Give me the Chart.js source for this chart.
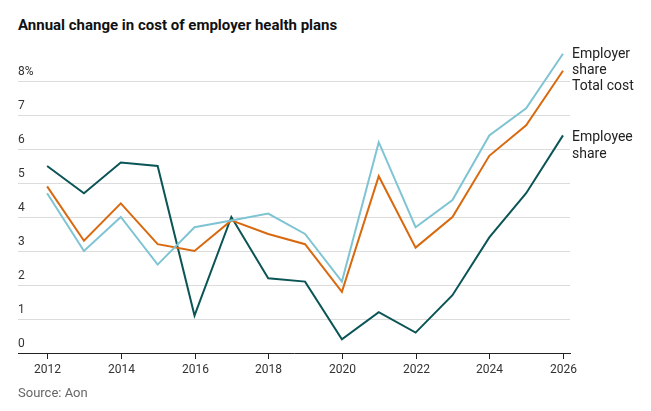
<!DOCTYPE html>
<html>
<head>
<meta charset="utf-8" />
<title>Annual change in cost of employer health plans</title>
<script src="https://cdn.jsdelivr.net/npm/chart.js"></script>
<style>
  body { margin: 0; background: #fff; font-family: Roboto, sans-serif; }
  #wrap { position: relative; width: 651px; height: 411px; }
  #title { position: absolute; left: 18px; top: 16px; font-size: 15px; font-weight: bold; color: #111; }
  #source { position: absolute; left: 18px; top: 385px; font-size: 13px; color: #666; }
  canvas { position: absolute; left: 0; top: 0; }
</style>
</head>
<body>
<div id="wrap">
  <div id="title">Annual change in cost of employer health plans</div>
  <canvas id="myChart" width="651" height="411"></canvas>
  <div id="source">Source: Aon</div>
</div>
<script type="text/javascript">
// data
const years = [2012, 2013, 2014, 2015, 2016, 2017, 2018, 2019, 2020, 2021, 2022, 2023, 2024, 2025, 2026];
const employerShare = [4.7, 3.0, 4.0, 2.6, 3.7, 3.9, 4.1, 3.5, 2.1, 6.2, 3.7, 4.5, 6.4, 7.2, 8.8];
const totalCost = [4.9, 3.3, 4.4, 3.2, 3.0, 3.9, 3.5, 3.2, 1.8, 5.2, 3.1, 4.0, 5.8, 6.7, 8.3];
const employeeShare = [5.5, 4.7, 5.6, 5.5, 1.1, 4.0, 2.2, 2.1, 0.4, 1.2, 0.6, 1.7, 3.4, 4.7, 6.4];
const yTicks = [0, 1, 2, 3, 4, 5, 6, 7, 8];
const xTicks = [2012, 2014, 2016, 2018, 2020, 2022, 2024, 2026];

const pts = arr => arr.map((v, i) => ({ x: years[i], y: v }));

// draws tick labels, tick marks and the end labels
const labelsPlugin = {
  id: 'labels',
  afterDraw(chart) {
    const ctx = chart.ctx, x = chart.scales.x, y = chart.scales.y;
    ctx.save();
    ctx.font = '12px Roboto';
    ctx.fillStyle = '#333';
    ctx.textAlign = 'left';
    ctx.textBaseline = 'alphabetic';
    yTicks.forEach(t => ctx.fillText(t === 8 ? '8%' : String(t), 18, y.getPixelForValue(t) - 6));
    ctx.textAlign = 'center';
    ctx.textBaseline = 'top';
    ctx.strokeStyle = '#222';
    ctx.lineWidth = 1;
    xTicks.forEach(t => {
      const px = Math.round(x.getPixelForValue(t)) + 0.5;
      ctx.beginPath();
      ctx.moveTo(px, chart.chartArea.bottom);
      ctx.lineTo(px, chart.chartArea.bottom + 6);
      ctx.stroke();
      ctx.fillText(String(t), px, chart.chartArea.bottom + 11);
    });
    ctx.font = '14px Roboto';
    ctx.fillStyle = '#222';
    ctx.textAlign = 'left';
    ctx.textBaseline = 'middle';
    const lx = chart.chartArea.right + 2;
    ctx.fillText('Employer', lx, 54);
    ctx.fillText('share', lx, 70);
    ctx.fillText('Total cost', lx, 86);
    ctx.fillText('Employee', lx, 137);
    ctx.fillText('share', lx, 154);
    ctx.restore();
  }
};

const ctx = document.getElementById('myChart');
new Chart(ctx, {
  type: 'line',
  data: {
    datasets: [
      { label: 'Employer share', data: pts(employerShare), borderColor: '#7fc4d3', borderWidth: 2 },
      { label: 'Total cost', data: pts(totalCost), borderColor: '#d9690f', borderWidth: 2 },
      { label: 'Employee share', data: pts(employeeShare), borderColor: '#0b5556', borderWidth: 2 }
    ]
  },
  options: {
    responsive: false,
    animation: false,
    elements: { point: { radius: 0 }, line: { tension: 0 } },
    layout: { padding: { left: 18, top: 47, right: 81, bottom: 58 } },
    plugins: { legend: { display: false }, tooltip: { enabled: false }, title: { display: false } },
    scales: {
      x: {
        type: 'linear', min: 2011.21, max: 2026.19,
        afterBuildTicks: s => { s.ticks = xTicks.map(v => ({ value: v })); },
        ticks: { display: false },
        grid: { display: false, drawTicks: false },
        border: { display: true, color: '#222', width: 1 }
      },
      y: {
        min: 0, max: 9,
        afterBuildTicks: s => { s.ticks = yTicks.map(v => ({ value: v })); },
        ticks: { display: false },
        grid: { color: c => c.tick.value === 0 ? 'rgba(0,0,0,0)' : '#dcdcdc', drawTicks: false },
        border: { display: false }
      }
    }
  },
  plugins: [labelsPlugin]
});
</script>
</body>
</html>
